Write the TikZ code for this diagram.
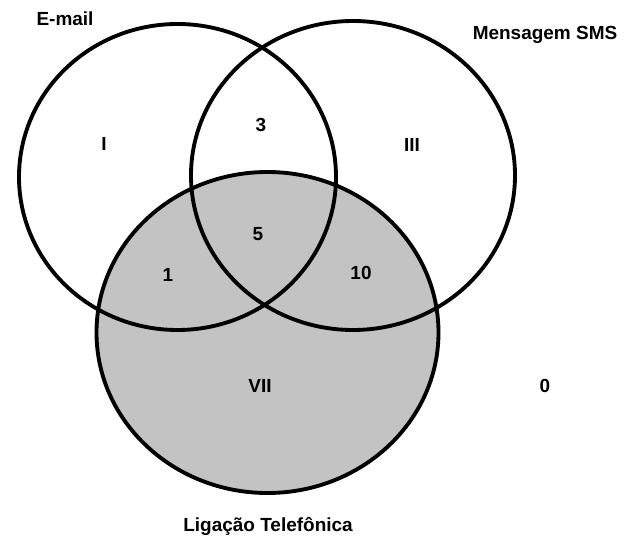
\documentclass[tikz,border=0pt]{standalone}
\usepackage{fontspec}
\setmainfont{Liberation Sans}
\usepackage{tikz}
\definecolor{ligfill}{RGB}{195,195,195}

\begin{document}
\begin{tikzpicture}[x=0.02cm,y=-0.02cm,
                    setline/.style={line width=2.2pt},
                    lbl/.style={inner sep=0pt,font=\fontsize{10.8}{13}\selectfont\bfseries}]
\useasboundingbox (0,0) rectangle (635,540);
\fill[ligfill] (267.5,332.5) ellipse [x radius=171, y radius=160.5];
\draw[setline] (177.5,177) ellipse [x radius=158.5, y radius=153];
\draw[setline] (353,175.5) ellipse [x radius=162, y radius=154.5];
\draw[setline] (267.5,332.5) ellipse [x radius=171, y radius=160.5];

\node[lbl] (email) at (65,18.5) {E-mail};
\node[lbl] (sms) at (545,35) {Mensagem SMS};
\node[lbl] (ligacao) at (268,526) {Ligação Telefônica};

\node[lbl] (regI) at (104,144) {I};
\node[lbl] (reg3) at (261,125) {3};
\node[lbl] (regIII) at (412,145) {III};
\node[lbl] (reg5) at (258,234) {5};
\node[lbl] (reg1) at (168,275) {1};
\node[lbl] (reg10) at (361,273) {10};
\node[lbl] (regVII) at (260,386) {VII};
\node[lbl] (reg0) at (545,386) {0};
\end{tikzpicture}
\end{document}
